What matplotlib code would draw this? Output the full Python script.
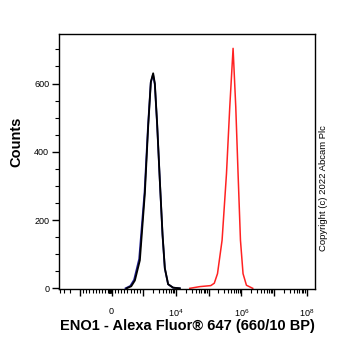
"""Flow cytometry histogram: ENO1 - Alexa Fluor 647."""

import matplotlib

matplotlib.use("Agg")
import matplotlib.pyplot as plt
from matplotlib.ticker import FixedLocator, FixedFormatter

# fluorescence values and counts
control_x = [473, 620, 735, 892, 1117, 1410, 1706, 2006, 2260, 2656, 3214, 3890, 4571, 5768, 8200, 13150]
control_y = [0, 6, 23, 82, 278, 473, 605, 630, 600, 482, 315, 157, 59, 12, 2, 0]

isotype_x = [440, 590, 710, 870, 1095, 1395, 1695, 1990, 2250, 2650, 3210, 3880, 4560, 5750, 8100, 13000]
isotype_y = [0, 7, 25, 86, 282, 475, 603, 626, 598, 480, 314, 156, 58, 12, 2, 0]

eno1_x = [26550, 53700, 116700, 149200, 187100, 258400, 352400, 444600,
          561000, 677500, 797600, 944000, 1132000, 1439000, 2244000]
eno1_y = [0, 5, 8, 15, 43, 141, 336, 532, 703, 532, 336, 141, 43, 9, 0]

xtick_pos = [0, 1e4, 1e6, 1e8]
xtick_labels = ["0", "$10^{4}$", "$10^{6}$", "$10^{8}$"]

plt.rcParams["font.family"] = ["Liberation Sans", "DejaVu Sans"]
plt.rcParams["mathtext.fontset"] = "custom"
plt.rcParams["mathtext.rm"] = "Liberation Sans"
plt.rcParams["mathtext.it"] = "Liberation Sans"

fig = plt.figure(figsize=(3.62, 3.51), dpi=100)
ax = fig.add_axes([0.163, 0.1766, 0.707, 0.7265])

ax.set_xscale("symlog", linthresh=1000, linscale=0.873)
ax.plot(isotype_x, isotype_y, color="#1c1c8c", linewidth=1.3)
ax.plot(control_x, control_y, color="black", linewidth=1.3)
ax.plot(eno1_x, eno1_y, color="#ff2222", linewidth=1.1)

ax.set_xlim(-4370, 1.8e8)
ax.set_ylim(-2, 745)

# x ticks: decades as major, linear steps near zero and 2..9 multiples as minor
major = [-1e3, 0, 1e3] + [10.0 ** k for k in range(4, 9)]
minor = [-m * 1e3 for m in (2, 3, 4)] + [s * m * 100 for s in (-1, 1) for m in range(1, 10)]
minor += [-m * 10 for m in range(2, 10)]
minor += [m * 10.0 ** k for k in range(3, 9) for m in range(2, 10)]
ax.xaxis.set_major_locator(FixedLocator(major))
labels = [""] * len(major)
for pos, lab in zip(xtick_pos, xtick_labels):
    labels[major.index(pos)] = lab
ax.xaxis.set_major_formatter(FixedFormatter(labels))
ax.xaxis.set_minor_locator(FixedLocator(minor))

ax.set_yticks([0, 200, 400, 600])
ax.set_yticks(range(0, 750, 50), minor=True)

ax.tick_params(axis="both", which="major", labelsize=6.5, width=1, length=5, pad=2)
ax.tick_params(axis="both", which="minor", width=0.8, length=3)
ax.tick_params(axis="x", which="major", pad=8)
for spine in ax.spines.values():
    spine.set_linewidth(1)

ax.set_xlabel("ENO1 - Alexa Fluor® 647 (660/10 BP)", fontsize=10.5, fontweight="bold", labelpad=0)
fig.text(16 / 362, 1 - 142 / 351, "Counts", rotation=90, fontsize=10.5,
         fontweight="bold", ha="center", va="center")

fig.text(324 / 362, 1 - 188 / 351, "Copyright (c) 2022 Abcam Plc", rotation=90,
         fontsize=6.8, ha="center", va="center")

fig.savefig("out.png", dpi=100)
